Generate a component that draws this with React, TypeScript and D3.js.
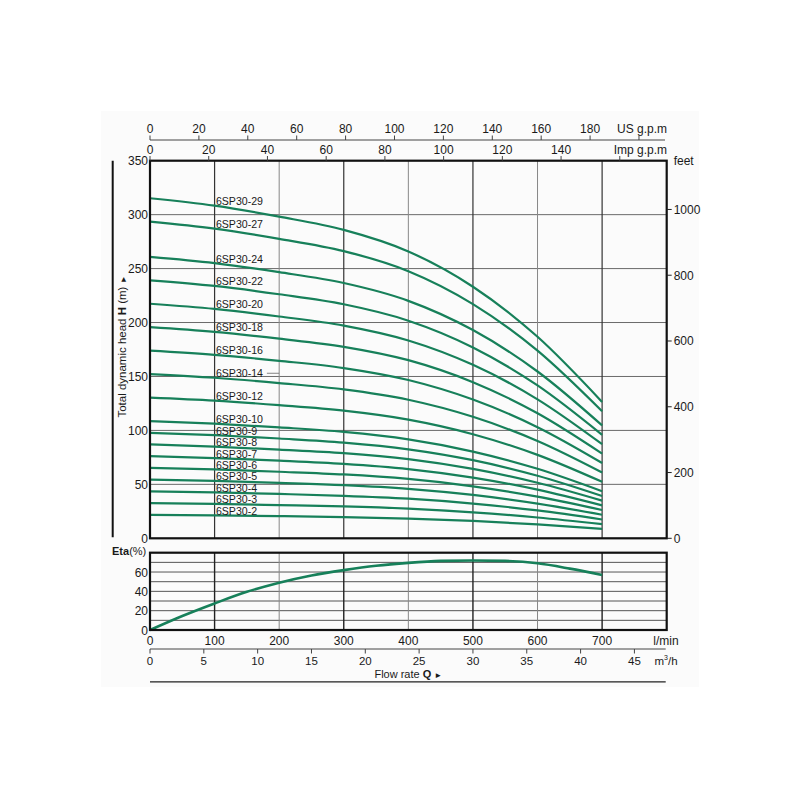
import React from "react";
import * as d3 from "d3";

// ---------- data ----------
const FLOW_LMIN = [0, 100, 200, 300, 400, 500, 600, 700];

const MODELS = [
  "6SP30-29", "6SP30-27", "6SP30-24", "6SP30-22", "6SP30-20", "6SP30-18",
  "6SP30-16", "6SP30-14", "6SP30-12", "6SP30-10", "6SP30-9", "6SP30-8",
  "6SP30-7", "6SP30-6", "6SP30-5", "6SP30-4", "6SP30-3", "6SP30-2",
];

const H_29 = [315.2, 308.3, 298.1, 285.9, 265.9, 233.2, 186.8, 126.4];
const H_27 = [293.5, 287.0, 277.6, 266.2, 247.6, 217.1, 173.9, 117.7];
const H_24 = [260.9, 255.1, 246.7, 236.6, 220.1, 193.0, 154.6, 104.6];
const H_22 = [239.1, 233.9, 226.2, 216.9, 201.7, 176.9, 141.7, 95.9];
const H_20 = [217.4, 212.6, 205.6, 197.2, 183.4, 160.8, 128.8, 87.2];
const H_18 = [195.7, 191.3, 185.0, 177.5, 165.1, 144.7, 115.9, 78.5];
const H_16 = [173.9, 170.1, 164.5, 157.8, 146.7, 128.6, 103.0, 69.8];
const H_14 = [152.2, 148.8, 143.9, 138.0, 128.4, 112.6, 90.2, 61.0];
const H_12 = [130.4, 127.6, 123.4, 118.3, 110.0, 96.5, 77.3, 52.3];
const H_10 = [108.7, 106.3, 102.8, 98.6, 91.7, 80.4, 64.4, 43.6];
const H_9 = [97.8, 95.7, 92.5, 88.7, 82.5, 72.4, 58.0, 39.2];
const H_8 = [87.0, 85.0, 82.2, 78.9, 73.4, 64.3, 51.5, 34.9];
const H_7 = [76.1, 74.4, 72.0, 69.0, 64.2, 56.3, 45.1, 30.5];
const H_6 = [65.2, 63.8, 61.7, 59.2, 55.0, 48.2, 38.6, 26.2];
const H_5 = [54.4, 53.2, 51.4, 49.3, 45.9, 40.2, 32.2, 21.8];
const H_4 = [43.5, 42.5, 41.1, 39.4, 36.7, 32.2, 25.8, 17.4];
const H_3 = [32.6, 31.9, 30.8, 29.6, 27.5, 24.1, 19.3, 13.1];
const H_2 = [21.7, 21.3, 20.6, 19.7, 18.3, 16.1, 12.9, 8.7];

const HEADS = [H_29, H_27, H_24, H_22, H_20, H_18, H_16, H_14, H_12, H_10, H_9, H_8, H_7, H_6, H_5, H_4, H_3, H_2];

const ETA_FLOW = [0, 50, 100, 150, 200, 250, 300, 350, 400, 450, 500, 550, 600, 650, 700];
const ETA_VALUES = [0, 14.5, 27.5, 39.5, 49, 56.5, 62, 66.5, 69.5, 71.5, 72, 71.5, 69, 63.5, 57];

const HEAD_TICKS = [0, 50, 100, 150, 200, 250, 300, 350];
const FEET_TICKS = [0, 200, 400, 600, 800, 1000];
const US_GPM_TICKS = [0, 20, 40, 60, 80, 100, 120, 140, 160, 180, 200];
const US_GPM_LABELED = [0, 20, 40, 60, 80, 100, 120, 140, 160, 180];
const IMP_GPM_TICKS = [0, 20, 40, 60, 80, 100, 120, 140, 160];
const IMP_GPM_LABELED = [0, 20, 40, 60, 80, 100, 120, 140];
const LMIN_TICKS = [0, 100, 200, 300, 400, 500, 600, 700];
const M3H_TICKS = [0, 5, 10, 15, 20, 25, 30, 35, 40, 45];
const ETA_TICKS = [0, 20, 40, 60];
const ETA_GRID = [10, 20, 30, 40, 50, 60, 70];

// unit conversions
const LMIN_PER_USGPM = 3.78541;
const LMIN_PER_IMPGPM = 4.54609;
const LMIN_PER_M3H = 1000 / 60;
const M_PER_FT = 0.3048;

const FONT = "'Liberation Sans', Arial, Helvetica, sans-serif";
const GREEN = "#17805a";

export default function App() {
  const x = d3.scaleLinear().domain([0, 800]).range([150, 666.7]);
  const y = d3.scaleLinear().domain([0, 350]).range([538.3, 160.7]);
  const ye = d3.scaleLinear().domain([0, 80]).range([630, 552.7]);

  const line = d3
    .line<[number, number]>()
    .x((d) => x(d[0]))
    .y((d) => y(d[1]))
    .curve(d3.curveMonotoneX);

  const etaLine = d3
    .line<[number, number]>()
    .x((d) => x(d[0]))
    .y((d) => ye(d[1]))
    .curve(d3.curveMonotoneX);

  const x0 = x(0);
  const x1 = x(800);
  const gridV = LMIN_TICKS.filter((v) => v > 0);
  const txt = { fontFamily: FONT, fontSize: 12, fill: "#1a1a1a" } as const;
  const txtS = { ...txt, fontSize: 11.5 };

  return (
    <svg
      width={800}
      height={800}
      style={{ position: "absolute", left: 0, top: 0, background: "#fff" }}
    >
      <rect x={0} y={0} width={800} height={800} fill="#fff" />
      <rect x={101} y={111} width={598} height={576} fill="#fbfbfb" />

      {/* ---------- main chart grid ---------- */}
      <g>
        {HEAD_TICKS.filter((v) => v > 0 && v < 350).map((v) => (
          <line key={"hg" + v} x1={x0} x2={x1} y1={y(v)} y2={y(v)} stroke="#6a6a6a" strokeWidth={1} />
        ))}
        {gridV.map((v, i) => (
          <line
            key={"vg" + v}
            x1={x(v)}
            x2={x(v)}
            y1={y(0)}
            y2={y(350)}
            stroke={i % 2 === 0 ? "#333" : "#888"}
            strokeWidth={i % 2 === 0 ? 1.2 : 1}
          />
        ))}
      </g>

      {/* curves */}
      <g>
        {HEADS.map((h, i) => (
          <path
            key={MODELS[i]}
            d={line(FLOW_LMIN.map((q, j) => [q, h[j]] as [number, number])) || ""}
            fill="none"
            stroke={GREEN}
            strokeWidth={2.2}
          />
        ))}
      </g>

      {/* curve labels */}
      <g>
        {HEADS.map((h, i) => (
          <text
            key={"l" + MODELS[i]}
            x={x(102)}
            y={y(h[1]) - 0.5}
            style={{ fontFamily: FONT, fontSize: 10.6, fill: "#1a1a1a" }}
          >
            {MODELS[i]}
          </text>
        ))}
        <line
          x1={x(102) + 51}
          x2={x(200)}
          y1={y(H_14[1]) - 4.5}
          y2={y(H_14[1]) - 4.5}
          stroke="#666"
          strokeWidth={0.8}
        />
      </g>

      {/* main border */}
      <rect x={x0} y={y(350)} width={x1 - x0} height={y(0) - y(350)} fill="none" stroke="#111" strokeWidth={2.2} />

      {/* left axis labels */}
      <g>
        {HEAD_TICKS.map((v) => (
          <text key={"ht" + v} x={148} y={y(v) + 4.3} textAnchor="end" style={txt}>
            {v}
          </text>
        ))}
      </g>
      <line x1={112.7} x2={112.7} y1={y(350)} y2={y(0) - 1} stroke="#111" strokeWidth={2} />
      <text
        transform={`translate(125.5, ${(y(0) + y(350)) / 2 - 3}) rotate(-90)`}
        textAnchor="middle"
        style={{ ...txt, fontSize: 11.5 }}
      >
        Total dynamic head <tspan fontWeight="bold">H</tspan> (m) <tspan fontSize={8}>►</tspan>
      </text>

      {/* right axis feet */}
      <g>
        {FEET_TICKS.map((v) => (
          <g key={"ft" + v}>
            <line x1={x1} x2={x1 + 5} y1={y(v * M_PER_FT)} y2={y(v * M_PER_FT)} stroke="#222" strokeWidth={1} />
            <text x={x1 + 7} y={y(v * M_PER_FT) + 4.3} style={txt}>
              {v}
            </text>
          </g>
        ))}
        <text x={x1 + 7} y={y(350) + 4.5} style={txt}>
          feet
        </text>
      </g>

      {/* top axes */}
      <g>
        <line x1={x0} x2={665} y1={140} y2={140} stroke="#444" strokeWidth={1} />
        {US_GPM_TICKS.map((v) => (
          <line key={"us" + v} x1={x(v * LMIN_PER_USGPM)} x2={x(v * LMIN_PER_USGPM)} y1={135.5} y2={140} stroke="#444" strokeWidth={1} />
        ))}
        {US_GPM_LABELED.map((v) => (
          <text key={"usl" + v} x={x(v * LMIN_PER_USGPM)} y={132.5} textAnchor="middle" style={txt}>
            {v}
          </text>
        ))}
        <text x={667} y={132.5} textAnchor="end" style={txt}>
          US g.p.m
        </text>

        {IMP_GPM_TICKS.map((v) => (
          <line key={"imp" + v} x1={x(v * LMIN_PER_IMPGPM)} x2={x(v * LMIN_PER_IMPGPM)} y1={156} y2={y(350)} stroke="#444" strokeWidth={1} />
        ))}
        {IMP_GPM_LABELED.map((v) => (
          <text key={"impl" + v} x={x(v * LMIN_PER_IMPGPM)} y={153.5} textAnchor="middle" style={txt}>
            {v}
          </text>
        ))}
        <text x={667} y={153.5} textAnchor="end" style={txt}>
          Imp g.p.m
        </text>
      </g>

      {/* ---------- eta chart ---------- */}
      <g>
        {ETA_GRID.map((v) => (
          <line key={"eg" + v} x1={x0} x2={x1} y1={ye(v)} y2={ye(v)} stroke="#555" strokeWidth={1} />
        ))}
        {gridV.map((v, i) => (
          <line
            key={"evg" + v}
            x1={x(v)}
            x2={x(v)}
            y1={ye(0)}
            y2={ye(80)}
            stroke={i % 2 === 0 ? "#222" : "#888"}
            strokeWidth={i % 2 === 0 ? 1.4 : 1}
          />
        ))}
        <path
          d={etaLine(ETA_FLOW.map((q, j) => [q, ETA_VALUES[j]] as [number, number])) || ""}
          fill="none"
          stroke={GREEN}
          strokeWidth={2.6}
        />
        <rect x={x0} y={ye(80)} width={x1 - x0} height={ye(0) - ye(80)} fill="none" stroke="#111" strokeWidth={2.2} />
        {ETA_TICKS.map((v) => (
          <text key={"et" + v} x={148} y={ye(v) + 4.5} textAnchor="end" style={txt}>
            {v}
          </text>
        ))}
        <text x={112} y={555} style={{ ...txt, fontSize: 11 }}>
          <tspan fontWeight="bold">Eta</tspan>(%)
        </text>
      </g>

      {/* bottom axes */}
      <g>
        {LMIN_TICKS.map((v) => (
          <text key={"lm" + v} x={x(v)} y={644.5} textAnchor="middle" style={txt}>
            {v}
          </text>
        ))}
        <text x={666} y={644.5} textAnchor="middle" style={txt}>
          l/min
        </text>

        <line x1={x0} x2={665.7} y1={649} y2={649} stroke="#444" strokeWidth={1} />
        {M3H_TICKS.map((v) => (
          <line key={"m3t" + v} x1={x(v * LMIN_PER_M3H)} x2={x(v * LMIN_PER_M3H)} y1={649} y2={653.5} stroke="#444" strokeWidth={1} />
        ))}
        {M3H_TICKS.map((v) => (
          <text key={"m3" + v} x={x(v * LMIN_PER_M3H)} y={664.8} textAnchor="middle" style={txtS}>
            {v}
          </text>
        ))}
        <text x={666} y={664.8} textAnchor="middle" style={txtS}>
          m<tspan fontSize={7} dy={-4.5}>3</tspan>
          <tspan dy={4.5}>/h</tspan>
        </text>

        <text x={(x0 + x1) / 2} y={678.2} textAnchor="middle" style={{ ...txt, fontSize: 11 }}>
          Flow rate <tspan fontWeight="bold">Q</tspan> <tspan fontSize={8}>►</tspan>
        </text>
        <line x1={x0} x2={665.7} y1={681.9} y2={681.9} stroke="#222" strokeWidth={1.3} />
      </g>
    </svg>
  );
}
